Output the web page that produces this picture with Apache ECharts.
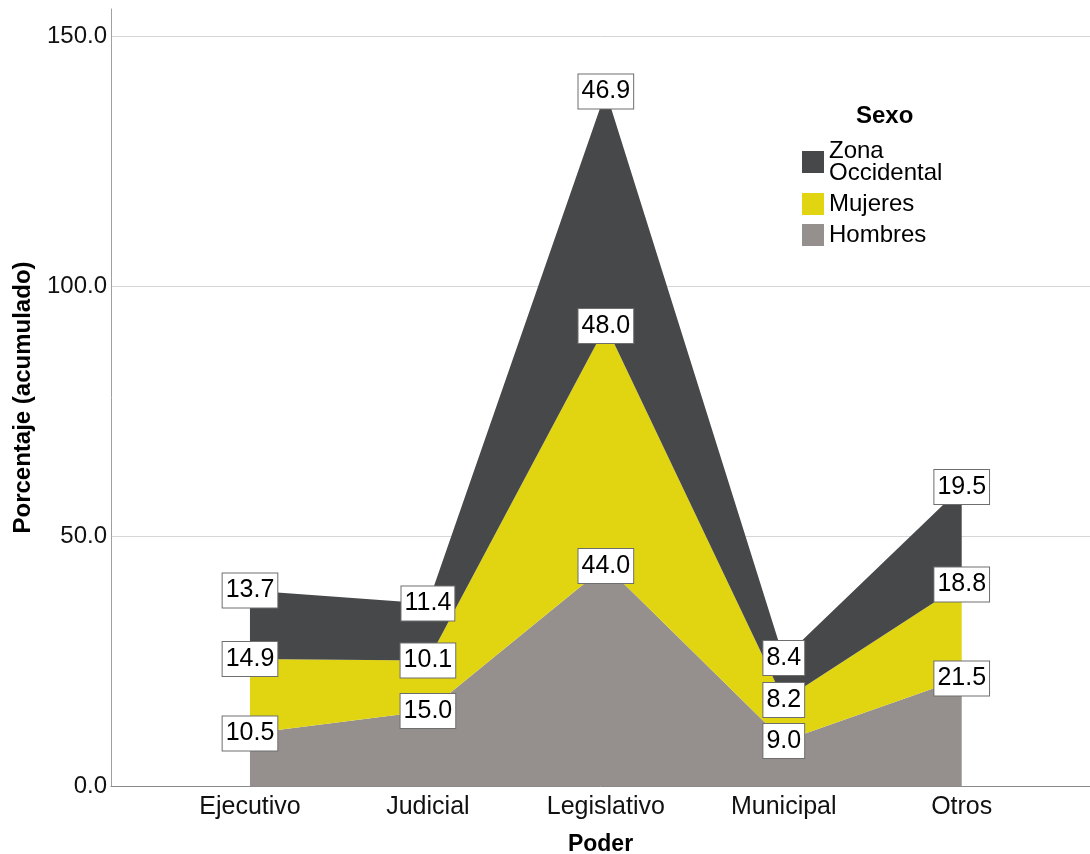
<!DOCTYPE html>
<html>
<head>
<meta charset="utf-8">
<script src="https://cdn.jsdelivr.net/npm/echarts@6/dist/echarts.min.js"></script>
<style>
html, body { margin: 0; padding: 0; background: #fff; }
#chart { width: 1090px; height: 854px; }
</style>
</head>
<body>
<div id="chart"></div>
<script>
const categories = ['Ejecutivo', 'Judicial', 'Legislativo', 'Municipal', 'Otros'];
const hombres = [10.5, 15.0, 44.0, 9.0, 21.5];
const mujeres = [14.9, 10.1, 48.0, 8.2, 18.8];
const zonaOccidental = [13.7, 11.4, 46.9, 8.4, 19.5];
const yTicks = [0, 50, 100, 150];
const legendOrder = ['Zona Occidental', 'Mujeres', 'Hombres'];

const FONT = '"Liberation Sans", Arial, sans-serif';
// value first (so it is the stacked dimension), category index second
const toPairs = vals => vals.map((v, i) => [v, i]);

function makeSeries(name, vals, color) {
  return {
    name: name,
    type: 'line',
    stack: 'total',
    data: toPairs(vals),
    encode: { x: 1, y: 0 },
    symbol: 'circle',
    symbolSize: 1,
    showSymbol: true,
    itemStyle: { color: color },
    lineStyle: { width: 0, color: color },
    areaStyle: { color: color, opacity: 1 },
    emphasis: { disabled: true },
    label: {
      show: true,
      position: 'inside',
      formatter: p => p.data[0].toFixed(1),
      fontFamily: FONT,
      fontSize: 25,
      lineHeight: 28,
      color: '#000',
      backgroundColor: '#fff',
      borderColor: '#6e6e6e',
      borderWidth: 1,
      padding: [3, 3, 3, 3]
    }
  };
}

const chart = echarts.init(document.getElementById('chart'), null, { renderer: 'canvas' });
chart.setOption({
  animation: false,
  textStyle: { fontFamily: FONT },
  title: {
    text: 'Sexo',
    left: 856,
    top: 104,
    padding: 0,
    textStyle: { fontFamily: FONT, fontSize: 24, fontWeight: 'bold', color: '#000' }
  },
  legend: {
    data: legendOrder,
    orient: 'vertical',
    left: 802,
    top: 139,
    padding: 0,
    icon: 'rect',
    itemWidth: 22,
    itemHeight: 22,
    itemGap: 7,
    selectedMode: false,
    formatter: n => n === 'Zona Occidental' ? 'Zona\nOccidental' : n,
    textStyle: { fontFamily: FONT, fontSize: 24, lineHeight: 22, color: '#000' }
  },
  grid: { left: 111, right: 0, top: 9, bottom: 68, containLabel: false, outerBoundsMode: 'none' },
  xAxis: {
    type: 'value',
    min: -0.781,
    max: 4.721,
    name: 'Poder',
    nameLocation: 'middle',
    nameGap: 47,
    nameTextStyle: { fontFamily: FONT, fontSize: 23, fontWeight: 'bold', color: '#000' },
    axisLine: { show: true, onZero: false, lineStyle: { color: '#8a8a8a', width: 1 } },
    axisTick: { show: false, customValues: [0, 1, 2, 3, 4] },
    splitLine: { show: false },
    axisLabel: {
      customValues: [0, 1, 2, 3, 4],
      formatter: v => categories[Math.round(v)],
      fontFamily: FONT,
      fontSize: 25,
      color: '#111',
      margin: 9
    }
  },
  yAxis: {
    type: 'value',
    min: 0,
    max: 155.4,
    name: 'Porcentaje (acumulado)',
    nameLocation: 'middle',
    nameGap: 76,
    nameRotate: 90,
    nameTextStyle: { fontFamily: FONT, fontSize: 24, fontWeight: 'bold', color: '#000' },
    axisLine: { show: true, onZero: false, lineStyle: { color: '#a0a0a0', width: 1 } },
    axisTick: { show: false, customValues: yTicks },
    splitLine: { show: true, lineStyle: { color: '#d6d6d6', width: 1 } },
    axisLabel: {
      customValues: yTicks,
      formatter: v => v.toFixed(1),
      fontFamily: FONT,
      fontSize: 24,
      color: '#111',
      margin: 4,
      padding: [4, 0, 0, 0]
    }
  },
  series: [
    makeSeries('Hombres', hombres, '#958f8e'),
    makeSeries('Mujeres', mujeres, '#e1d511'),
    makeSeries('Zona Occidental', zonaOccidental, '#47484a')
  ]
});
</script>
</body>
</html>
